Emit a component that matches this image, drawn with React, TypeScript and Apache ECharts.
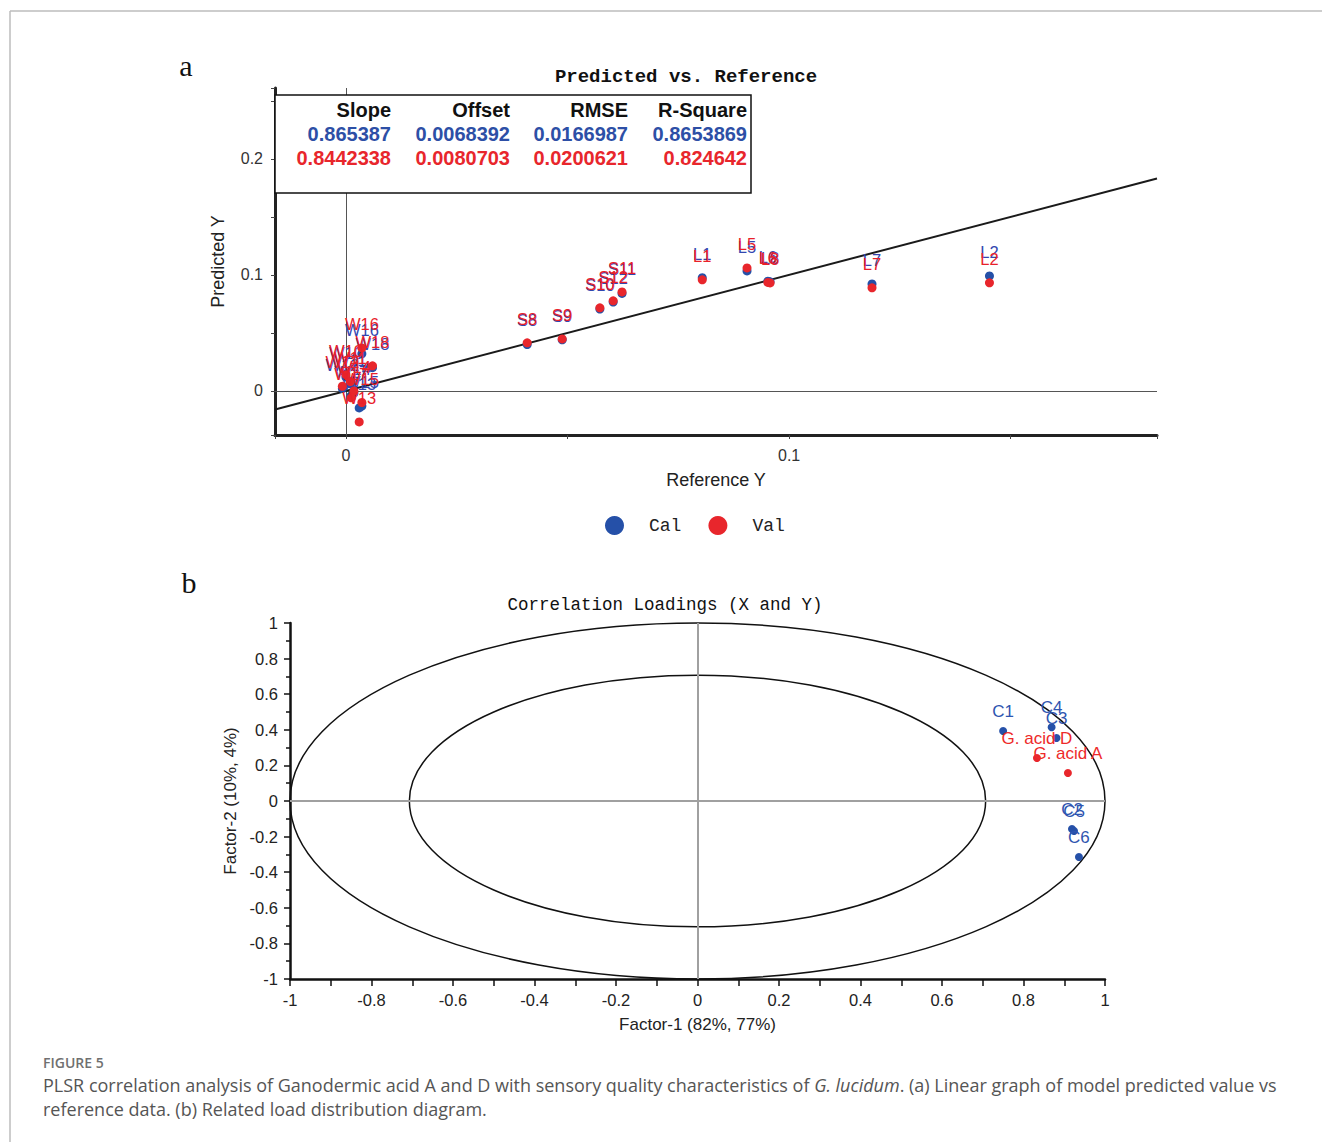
import React, { useEffect, useRef } from 'react';
import * as echarts from 'echarts';

// ---- Panel a: Predicted vs. Reference ----
const sampleNames = ['W10', 'W11', 'W12', 'W14', 'W17', 'W15', 'W13', 'W16', 'W18', 'S8', 'S9', 'S10', 'S12', 'S11', 'L1', 'L5', 'L6', 'L8', 'L7', 'L2'];
const referenceY = [0.0, 0.0010, -0.0008, 0.0018, 0.0012, 0.0036, 0.0030, 0.0036, 0.0060, 0.0409, 0.0488, 0.0573, 0.0603, 0.0623, 0.0804, 0.0905, 0.0952, 0.0957, 0.1187, 0.1452];
const predictedCal = [0.012, 0.006, 0.002, -0.002, -0.004, -0.013, -0.0147, 0.032, 0.020, 0.0400, 0.0440, 0.0705, 0.0765, 0.0840, 0.0975, 0.1034, 0.0945, 0.0940, 0.0922, 0.0991];
const predictedVal = [0.014, 0.008, 0.004, 0.000, -0.006, -0.010, -0.0267, 0.037, 0.0216, 0.0414, 0.0448, 0.0716, 0.0776, 0.0853, 0.0957, 0.1060, 0.0935, 0.0930, 0.0888, 0.0931];
const targetLineEnds = [-0.016, 0.183];
const statHeaders = ['Slope', 'Offset', 'RMSE', 'R-Square'];
const calStats = ['0.865387', '0.0068392', '0.0166987', '0.8653869'];
const valStats = ['0.8442338', '0.0080703', '0.0200621', '0.824642'];

// ---- Panel b: Correlation Loadings ----
const xVarNames = ['C1', 'C2', 'C3', 'C4', 'C5', 'C6'];
const xVarFactor1 = [0.750, 0.919, 0.881, 0.869, 0.924, 0.936];
const xVarFactor2 = [0.393, -0.157, 0.354, 0.414, -0.169, -0.315];
const yVarNames = ['G. acid A', 'G. acid D'];
const yVarFactor1 = [0.909, 0.833];
const yVarFactor2 = [0.157, 0.242];
const ellipseRadii = [1, 0.7071];

const BLUE = '#2550a8';
const RED = '#e8262c';
const BLUE_TXT = '#3347b0';

export default function App() {
  const ref = useRef<HTMLDivElement>(null);
  useEffect(() => {
    if (!ref.current) return;
    const chart = echarts.init(ref.current, null, { renderer: 'svg' });

    const tenthFormatter = (v: number) => {
      const k = v * 10;
      if (Math.abs(k - Math.round(k)) < 1e-6) {
        const r = Math.round(k) / 10;
        return r === 0 ? '0' : String(r);
      }
      return '';
    };

    const statTexts: any[] = [];
    const cols = [391, 510, 628, 747];
    const statFont = 'bold 20px "Liberation Sans", Arial';
    statHeaders.forEach((h, i) => {
      statTexts.push({ type: 'text', z: 101, x: cols[i], y: 110, style: { text: h, align: 'right', verticalAlign: 'middle', font: statFont, fill: '#111' } });
      statTexts.push({ type: 'text', z: 101, x: cols[i], y: 134, style: { text: calStats[i], align: 'right', verticalAlign: 'middle', font: statFont, fill: '#2d4fa6' } });
      statTexts.push({ type: 'text', z: 101, x: cols[i], y: 158, style: { text: valStats[i], align: 'right', verticalAlign: 'middle', font: statFont, fill: '#e8262c' } });
    });

    const option: any = {
      animation: false,
      textStyle: { fontFamily: '"Liberation Sans", Arial, sans-serif' },
      legend: {
        data: ['Cal', 'Val'],
        left: 600,
        top: 511,
        icon: 'circle',
        itemWidth: 19,
        itemHeight: 19,
        itemGap: 27,
        textStyle: { fontFamily: '"Liberation Mono", monospace', fontSize: 18, color: '#222', padding: [0, 0, 0, 20] },
      },
      grid: [
        { left: 275, top: 88, width: 882, height: 347 },
        { left: 290, top: 623, width: 815, height: 356 },
      ],
      xAxis: [
        {
          gridIndex: 0, type: 'value', min: -0.016, max: 0.183, splitNumber: 4,
          name: 'Reference Y', nameLocation: 'middle', nameGap: 36,
          nameTextStyle: { fontSize: 18, color: '#222' },
          axisLine: { show: true, onZero: false, lineStyle: { color: '#222', width: 3 } },
          axisTick: { show: true, length: 4, lineStyle: { color: '#444' } },
          axisLabel: { formatter: tenthFormatter, fontSize: 16, color: '#333', margin: 12 },
          splitLine: { show: false },
        },
        {
          gridIndex: 1, type: 'value', min: -1, max: 1, interval: 0.2,
          name: 'Factor-1 (82%, 77%)', nameLocation: 'middle', nameGap: 37,
          nameTextStyle: { fontSize: 17, color: '#222' },
          axisLine: { show: true, onZero: false, lineStyle: { color: '#111', width: 2.5 } },
          axisTick: { show: true, length: 7, lineStyle: { color: '#111', width: 1.5 } },
          minorTick: { show: true, splitNumber: 2, length: 7, lineStyle: { color: '#111', width: 1.5 } },
          axisLabel: { fontSize: 16.5, color: '#222', margin: 12 },
          splitLine: { show: false },
        },
      ],
      yAxis: [
        {
          gridIndex: 0, type: 'value', min: -0.038, max: 0.261, splitNumber: 6,
          name: 'Predicted Y', nameLocation: 'middle', nameGap: 48,
          nameTextStyle: { fontSize: 18, color: '#222' },
          axisLine: { show: true, onZero: false, lineStyle: { color: '#222', width: 3 } },
          axisTick: { show: true, length: 4, lineStyle: { color: '#444' } },
          axisLabel: { formatter: tenthFormatter, fontSize: 16, color: '#333', margin: 12 },
          splitLine: { show: false },
        },
        {
          gridIndex: 1, type: 'value', min: -1, max: 1, interval: 0.2,
          name: 'Factor-2 (10%, 4%)', nameLocation: 'middle', nameGap: 51,
          nameTextStyle: { fontSize: 17, color: '#222' },
          axisLine: { show: true, onZero: false, lineStyle: { color: '#111', width: 2.5 } },
          axisTick: { show: true, length: 6, lineStyle: { color: '#111', width: 1.5 } },
          minorTick: { show: true, splitNumber: 2, length: 4, lineStyle: { color: '#111', width: 1.5 } },
          axisLabel: { fontSize: 16.5, color: '#222', margin: 12 },
          splitLine: { show: false },
        },
      ],
      series: [
        {
          name: 'target', type: 'line', xAxisIndex: 0, yAxisIndex: 0,
          data: targetLineEnds.map((v) => [v, v]),
          showSymbol: false, symbol: 'none',
          lineStyle: { color: '#1a1a1a', width: 2 },
          silent: true, z: 1,
          markLine: {
            silent: true, symbol: 'none', z: 1,
            label: { show: false },
            lineStyle: { color: '#555', width: 1, type: 'solid' },
            data: [{ xAxis: 0 }, { yAxis: 0 }],
          },
        },
        {
          name: 'Cal', type: 'scatter', xAxisIndex: 0, yAxisIndex: 0,
          symbolSize: 9, itemStyle: { color: BLUE, opacity: 1 },
          data: sampleNames.map((n, i) => ({ name: n, value: [referenceY[i], predictedCal[i]] })),
          label: { show: true, position: 'top', distance: 11, formatter: '{b}', fontSize: 16.5, color: BLUE_TXT },
          labelLayout: { hideOverlap: false },
          z: 3,
        },
        {
          name: 'Val', type: 'scatter', xAxisIndex: 0, yAxisIndex: 0,
          symbolSize: 9, itemStyle: { color: RED, opacity: 1 },
          data: sampleNames.map((n, i) => ({ name: n, value: [referenceY[i], predictedVal[i]] })),
          label: { show: true, position: 'top', distance: 11, formatter: '{b}', fontSize: 16.5, color: '#e8202a' },
          labelLayout: { hideOverlap: false },
          z: 4,
        },
        {
          name: 'circles', type: 'custom', xAxisIndex: 1, yAxisIndex: 1,
          data: ellipseRadii.map((r) => [r, 0]),
          clip: false, silent: true, z: 1,
          renderItem: (params: any, api: any) => {
            const r = api.value(0);
            const c = api.coord([0, 0]);
            const px = api.coord([r, 0]);
            const py = api.coord([0, r]);
            return {
              type: 'ellipse',
              shape: { cx: c[0], cy: c[1], rx: px[0] - c[0], ry: c[1] - py[1] },
              style: { fill: 'none', stroke: '#111', lineWidth: 1.5 },
            };
          },
          markLine: {
            silent: true, symbol: 'none',
            label: { show: false },
            lineStyle: { color: '#a0a0a0', width: 2, type: 'solid' },
            data: [{ xAxis: 0 }, { yAxis: 0 }],
          },
        },
        {
          name: 'X variables', type: 'scatter', xAxisIndex: 1, yAxisIndex: 1,
          symbolSize: 8, itemStyle: { color: BLUE, opacity: 1 },
          data: xVarNames.map((n, i) => ({ name: n, value: [xVarFactor1[i], xVarFactor2[i]] })),
          label: { show: true, position: 'top', distance: 7, formatter: '{b}', fontSize: 17, color: '#2f55b0' },
          labelLayout: { hideOverlap: false },
          z: 3,
        },
        {
          name: 'Y variables', type: 'scatter', xAxisIndex: 1, yAxisIndex: 1,
          symbolSize: 8, itemStyle: { color: RED, opacity: 1 },
          data: yVarNames.map((n, i) => ({ name: n, value: [yVarFactor1[i], yVarFactor2[i]] })),
          label: { show: true, position: 'top', distance: 7, formatter: '{b}', fontSize: 17, color: '#ee2a2a' },
          labelLayout: { hideOverlap: false },
          z: 4,
        },
      ],
      graphic: {
        elements: [
          { type: 'line', shape: { x1: 10, y1: 11, x2: 1322, y2: 11 }, style: { stroke: '#bdbdbd', lineWidth: 1.5 }, silent: true },
          { type: 'line', shape: { x1: 10, y1: 11, x2: 10, y2: 1142 }, style: { stroke: '#bdbdbd', lineWidth: 1.5 }, silent: true },
          { type: 'text', x: 186, y: 65, style: { text: 'a', align: 'center', verticalAlign: 'middle', font: '30px "Liberation Serif", serif', fill: '#111' } },
          { type: 'text', x: 189, y: 582, style: { text: 'b', align: 'center', verticalAlign: 'middle', font: '30px "Liberation Serif", serif', fill: '#111' } },
          { type: 'text', x: 686, y: 77, style: { text: 'Predicted vs. Reference', align: 'center', verticalAlign: 'middle', font: 'bold 19px "Liberation Mono", monospace', fill: '#111' } },
          { type: 'rect', z: 100, shape: { x: 275, y: 95, width: 476, height: 98 }, style: { fill: '#fff', stroke: '#111', lineWidth: 1.5 } },
          ...statTexts,
          { type: 'text', x: 665, y: 605, style: { text: 'Correlation Loadings (X and Y)', align: 'center', verticalAlign: 'middle', font: '17.5px "Liberation Mono", monospace', fill: '#111' } },
          { type: 'text', x: 43, y: 1062, style: { text: 'FIGURE 5', align: 'left', verticalAlign: 'middle', font: '600 14px "Open Sans", sans-serif', fill: '#707070' } },
          {
            type: 'text', x: 43, y: 1085,
            style: {
              text: '{n|PLSR correlation analysis of Ganodermic acid A and D with sensory quality characteristics of }{i|G. lucidum}{n|. (a) Linear graph of model predicted value vs}',
              align: 'left', verticalAlign: 'middle',
              rich: {
                n: { font: '18px "Open Sans", sans-serif', fill: '#555' },
                i: { font: 'italic 18px "Open Sans", sans-serif', fill: '#555' },
              },
            },
          },
          { type: 'text', x: 43, y: 1109, style: { text: 'reference data. (b) Related load distribution diagram.', align: 'left', verticalAlign: 'middle', font: '18px "Open Sans", sans-serif', fill: '#555' } },
        ],
      },
    };

    chart.setOption(option);
    return () => chart.dispose();
  }, []);

  return <div ref={ref} style={{ position: 'absolute', left: 0, top: 0, width: 1322, height: 1142, background: '#fff' }} />;
}
